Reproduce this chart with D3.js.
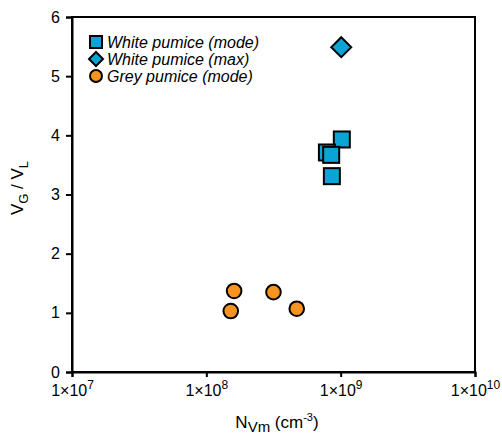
<!DOCTYPE html>
<html><head><meta charset="utf-8">
<script src="https://cdn.jsdelivr.net/npm/d3@7"></script>
<style>body{margin:0;background:#fff;} text{font-family:"Liberation Sans",Arial,sans-serif;}</style>
</head><body><svg id="c" width="502" height="442"></svg>
<script>
const whiteModeX = [1.02e9, 7.9e8, 8.5e8, 8.6e8];
const whiteModeY = [3.93, 3.71, 3.67, 3.31];
const whiteMaxX = [1.01e9];
const whiteMaxY = [5.49];
const greyModeX = [1.61e8, 1.52e8, 3.16e8, 4.71e8];
const greyModeY = [1.37, 1.03, 1.35, 1.07];
const xTickExps = [7, 8, 9, 10];
const yTicks = [0, 1, 2, 3, 4, 5, 6];
const legendLabels = ["White pumice (mode)", "White pumice (max)", "Grey pumice (mode)"];
const blue = "#0AA5D6", orange = "#F7931E";

const svg = d3.select("#c");
const L = 72, R = 475, T = 17, B = 372;
const x = d3.scaleLog().domain([1e7, 1e10]).range([L, R]);
const y = d3.scaleLinear().domain([0, 6]).range([B, T]);

// frame
svg.append("rect").attr("x", L).attr("y", T).attr("width", R - L).attr("height", B - T)
  .attr("fill", "none").attr("stroke", "#000").attr("stroke-width", 2);

// x axis
const xa = svg.append("g").attr("transform", `translate(0,${B})`)
  .call(d3.axisBottom(x).tickValues(xTickExps.map(e => Math.pow(10, e))).tickSize(5).tickFormat(""));
xa.select(".domain").attr("stroke-width", 2);
xa.selectAll(".tick line").attr("stroke-width", 2);
xa.selectAll(".tick").append("text").attr("y", 24).attr("fill", "#000")
  .attr("text-anchor", "middle").style("font-size", "16px")
  .each(function(d) {
    const t = d3.select(this);
    t.append("tspan").text("1×10");
    t.append("tspan").attr("dy", -7).style("font-size", "12px").text(Math.round(Math.log10(d)));
  });

// y axis
const ya = svg.append("g").attr("transform", `translate(${L},0)`)
  .call(d3.axisLeft(y).tickValues(yTicks).tickSize(6).tickPadding(6).tickFormat(d3.format("d")));
ya.select(".domain").attr("stroke-width", 2);
ya.selectAll(".tick line").attr("stroke-width", 2);
ya.selectAll(".tick text").style("font-size", "16px").attr("fill", "#000")
  .style("font-family", "Liberation Sans, Arial, sans-serif");

// axis labels
const xl = svg.append("text").attr("x", 277).attr("y", 428).attr("text-anchor", "middle").style("font-size", "17px");
xl.append("tspan").text("N");
xl.append("tspan").attr("dy", 4).style("font-size", "15px").text("Vm");
xl.append("tspan").attr("dy", -4).text(" (cm");
xl.append("tspan").attr("dy", -7).style("font-size", "11px").text("-3");
xl.append("tspan").attr("dy", 7).text(")");

const yl = svg.append("text").attr("transform", "translate(23,188) rotate(-90)").attr("text-anchor", "middle").style("font-size", "17px");
yl.append("tspan").text("V");
yl.append("tspan").attr("dy", 5).style("font-size", "13px").text("G");
yl.append("tspan").attr("dy", -5).text(" / V");
yl.append("tspan").attr("dy", 5).style("font-size", "13px").text("L");

// data
const sq = 16;
svg.append("g").selectAll("rect").data(whiteModeX.map((v, i) => [v, whiteModeY[i]])).join("rect")
  .attr("x", d => x(d[0]) - sq / 2).attr("y", d => y(d[1]) - sq / 2)
  .attr("width", sq).attr("height", sq).attr("fill", blue).attr("stroke", "#000").attr("stroke-width", 2);

svg.append("g").selectAll("path").data(whiteMaxX.map((v, i) => [v, whiteMaxY[i]])).join("path")
  .attr("transform", d => `translate(${x(d[0])},${y(d[1])})`)
  .attr("d", "M0,-10L10,0L0,10L-10,0Z").attr("fill", blue).attr("stroke", "#000").attr("stroke-width", 2);

svg.append("g").selectAll("circle").data(greyModeX.map((v, i) => [v, greyModeY[i]])).join("circle")
  .attr("cx", d => x(d[0])).attr("cy", d => y(d[1])).attr("r", 7.3)
  .attr("fill", orange).attr("stroke", "#000").attr("stroke-width", 2);

// legend
const lg = svg.append("g");
const ly = [42, 59, 76];
lg.append("rect").attr("x", 90).attr("y", ly[0] - 6).attr("width", 12).attr("height", 12)
  .attr("fill", blue).attr("stroke", "#000").attr("stroke-width", 2);
lg.append("path").attr("transform", `translate(96,${ly[1]})`).attr("d", "M0,-7L7,0L0,7L-7,0Z")
  .attr("fill", blue).attr("stroke", "#000").attr("stroke-width", 2);
lg.append("circle").attr("cx", 96).attr("cy", ly[2]).attr("r", 6)
  .attr("fill", orange).attr("stroke", "#000").attr("stroke-width", 2);
legendLabels.forEach((t, i) => {
  lg.append("text").attr("x", 107).attr("y", ly[i] + 6).style("font-size", "16px")
    .style("font-style", "italic").text(t);
});
</script></body></html>
